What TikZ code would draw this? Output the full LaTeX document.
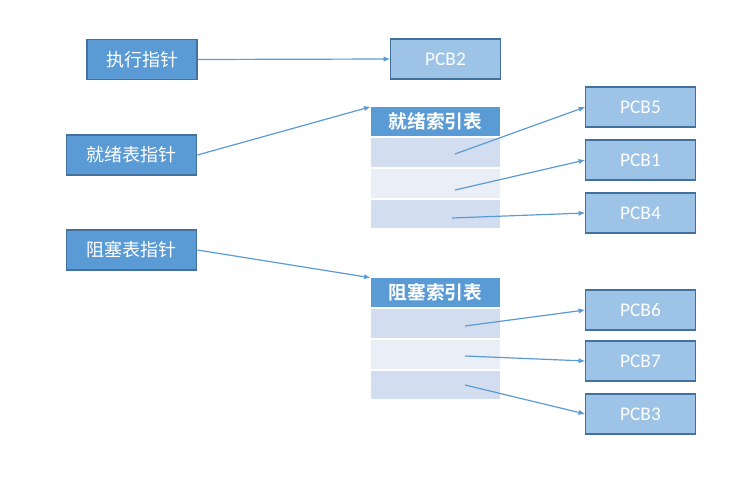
\documentclass[tikz,border=0pt]{standalone}
\usepackage{fontspec}
\setmainfont{Carlito}
\newfontfamily\cjk{Noto Sans CJK SC}[BoldFont={Noto Sans CJK SC Bold}]
\usetikzlibrary{arrows.meta, positioning, calc}
\definecolor{ptrfill}{HTML}{5B9BD5}
\definecolor{ptrline}{HTML}{41719C}
\definecolor{pcbfill}{HTML}{9DC3E6}
\definecolor{rowa}{HTML}{D2DEEF}
\definecolor{rowb}{HTML}{E9EEF7}
\definecolor{link}{HTML}{5B9BD5}
\tikzset{
  ptr/.style   ={draw=ptrline, fill=ptrfill, line width=0.8pt, minimum height=30pt,
                 text=white, font=\cjk\fontsize{13.5}{16}\selectfont, inner sep=0pt},
  pcb/.style   ={draw=ptrline, fill=pcbfill, line width=0.8pt, minimum width=82pt,
                 minimum height=30pt, text=white, font=\fontsize{14.5}{16}\selectfont,
                 inner sep=0pt},
  head/.style  ={fill=ptrfill, minimum width=96.75pt, minimum height=21.75pt, text=white,
                 font=\cjk\bfseries\fontsize{14}{16}\selectfont, inner sep=0pt},
  rowx/.style  ={fill=rowa, minimum width=96.75pt, minimum height=21.5pt, inner sep=0pt},
  rowy/.style  ={rowx, fill=rowb},
  flow/.style  ={-{Latex[length=5pt,width=4pt]}, line width=0.9pt, draw=link}
}
\begin{document}
\begin{tikzpicture}[x=0.75pt, y=-0.75pt, node distance=1.2pt]
  \useasboundingbox (0,0) rectangle (736,478);

  % pointers
  \node[ptr, minimum width=82.5pt] (run) at (142,59.5)  {执行指针};
  \node[ptr, minimum width=98pt]   (rdy) at (131.5,155) {就绪表指针};
  \node[ptr, minimum width=98pt]   (blk) at (131.5,250) {阻塞表指针};

  \node[pcb] (pcb2) at (445.5,59) {PCB2};

  % ready table
  \node[head] (rdyHead) at (435.5,121.5) {就绪索引表};
  \node[rowx, below=of rdyHead] (rdy1) {};
  \node[rowy, below=of rdy1]    (rdy2) {};
  \node[rowx, below=of rdy2]    (rdy3) {};

  % blocked table
  \node[head] (blkHead) at (435.5,292.5) {阻塞索引表};
  \node[rowx, below=of blkHead] (blk1) {};
  \node[rowy, below=of blk1]    (blk2) {};
  \node[rowx, below=of blk2]    (blk3) {};

  % process blocks
  \node[pcb] (pcb5) at (640.5,107) {PCB5};
  \node[pcb] (pcb1) at (640.5,160) {PCB1};
  \node[pcb] (pcb4) at (640.5,213) {PCB4};
  \node[pcb] (pcb6) at (640.5,310) {PCB6};
  \node[pcb] (pcb7) at (640.5,361) {PCB7};
  \node[pcb] (pcb3) at (640.5,414) {PCB3};

  \coordinate (rdyS1) at (455,154);
  \coordinate (rdyS2) at (455,190);
  \coordinate (rdyS3) at (452,218);
  \coordinate (blkS1) at (465,326);
  \coordinate (blkS2) at (465,356);
  \coordinate (blkS3) at (465,385);

  \draw[flow] (run.east) -- (pcb2.west);
  \draw[flow] (rdy.east) -- (rdyHead.north west);
  \draw[flow] (blk.east) -- (blkHead.north west);

  \draw[flow] (rdyS1) -- (pcb5.west);
  \draw[flow] (rdyS2) -- (pcb1.west);
  \draw[flow] (rdyS3) -- (pcb4.west);
  \draw[flow] (blkS1) -- (pcb6.west);
  \draw[flow] (blkS2) -- (pcb7.west);
  \draw[flow] (blkS3) -- (pcb3.west);
\end{tikzpicture}
\end{document}
